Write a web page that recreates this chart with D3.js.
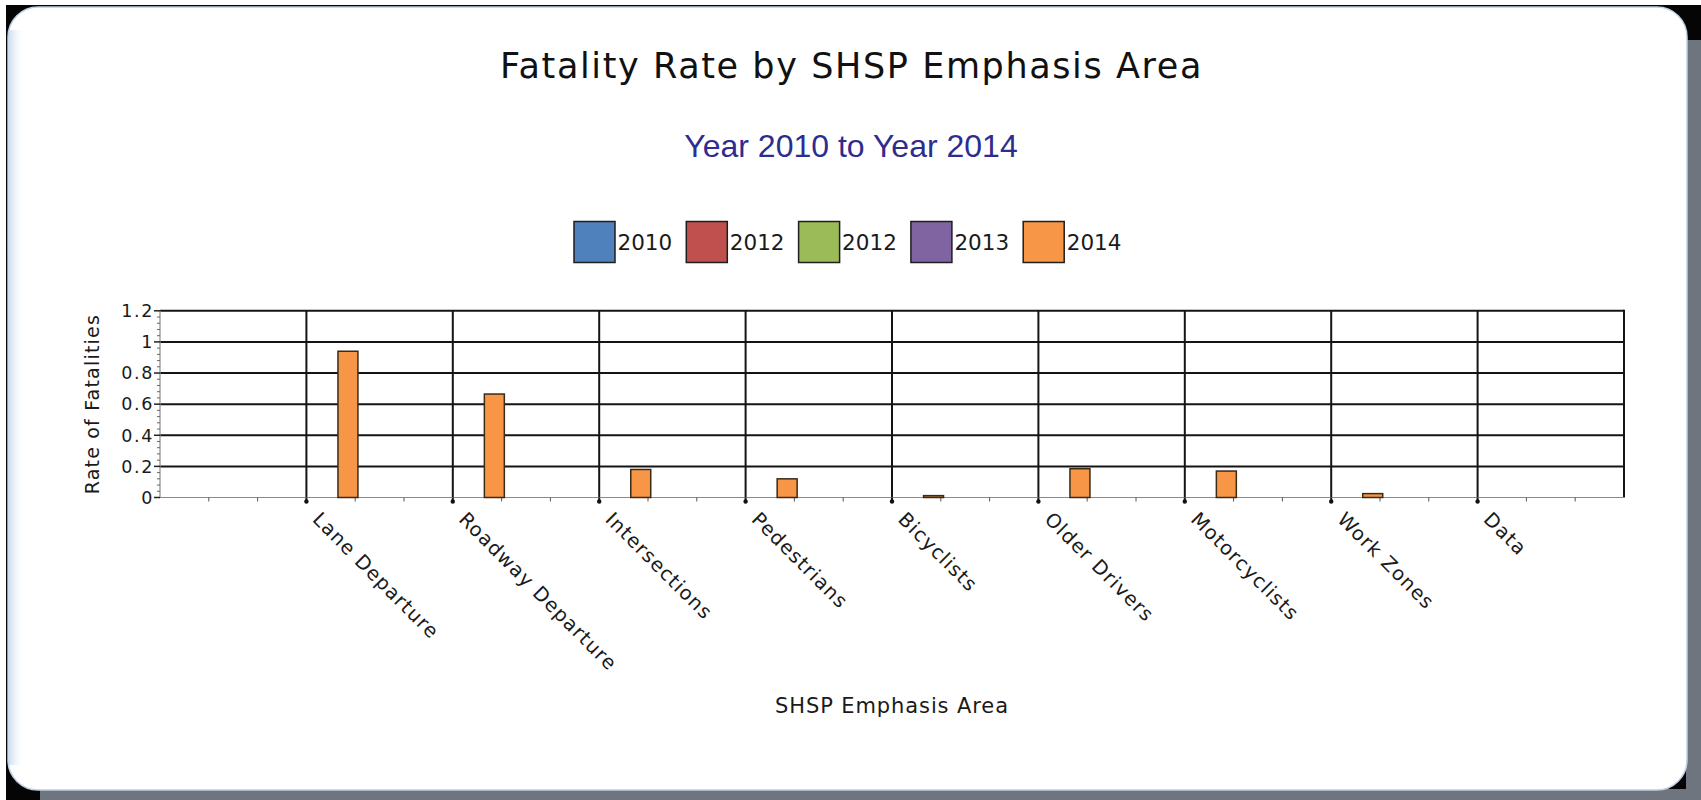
<!DOCTYPE html>
<html>
<head>
<meta charset="utf-8">
<script src="https://cdn.jsdelivr.net/npm/d3@7"></script>
<style>
  html, body { margin: 0; padding: 0; background: #ffffff; }
  svg { display: block; }
</style>
</head>
<body>
<svg id="chart" width="1701" height="800"></svg>
<script>
// ---------------- data ----------------
const categories = ["Lane Departure", "Roadway Departure", "Intersections", "Pedestrians",
  "Bicyclists", "Older Drivers", "Motorcyclists", "Work Zones", "Data"];
const seriesNames = ["2010", "2012", "2012", "2013", "2014"];
const seriesColors = ["#4F81BD", "#C0504D", "#9BBB59", "#8064A2", "#F79646"];
const values2010 = [null, null, null, null, null, null, null, null, null];
const values2012a = [null, null, null, null, null, null, null, null, null];
const values2012b = [null, null, null, null, null, null, null, null, null];
const values2013 = [null, null, null, null, null, null, null, null, null];
const values2014 = [0.94, 0.665, 0.18, 0.12, 0.012, 0.185, 0.17, 0.025, null];
const yTicks = [0, 0.2, 0.4, 0.6, 0.8, 1, 1.2];
const yTickLabels = ["0", "0.2", "0.4", "0.6", "0.8", "1", "1.2"];
const titleText = "Fatality Rate by SHSP Emphasis Area";
const subtitleText = "Year 2010 to Year 2014";
const xTitle = "SHSP Emphasis Area";
const yTitle = "Rate of Fatalities";

const seriesValues = [values2010, values2012a, values2012b, values2013, values2014];

// ---------------- frame ----------------
const svg = d3.select("#chart");
const W = 1701, H = 800;

const defs = svg.append("defs");
const lg = defs.append("linearGradient").attr("id", "leftGlow").attr("x1", "0").attr("x2", "1").attr("y1", "0").attr("y2", "0");
lg.append("stop").attr("offset", "0").attr("stop-color", "#cfdff0");
lg.append("stop").attr("offset", "1").attr("stop-color", "#ffffff").attr("stop-opacity", 0);

svg.append("rect").attr("x", 0).attr("y", 0).attr("width", W).attr("height", H).attr("fill", "#ffffff");
svg.append("rect").attr("x", 6).attr("y", 5).attr("width", W - 6).attr("height", H - 5).attr("fill", "#050505");
svg.append("rect").attr("x", 1686).attr("y", 40).attr("width", 15).attr("height", H - 40).attr("fill", "#6f757e");
svg.append("rect").attr("x", 40).attr("y", 789).attr("width", W - 40).attr("height", 11).attr("fill", "#6f757e");
svg.append("rect").attr("x", 8).attr("y", 7).attr("width", 1679).attr("height", 783).attr("rx", 30).attr("ry", 30)
  .attr("fill", "#ffffff").attr("stroke", "#bcd0e6").attr("stroke-width", 1.5);
svg.append("rect").attr("x", 9).attr("y", 30).attr("width", 16).attr("height", 735).attr("fill", "url(#leftGlow)");

// ---------------- titles ----------------
svg.append("text").attr("x", 851.5).attr("y", 78).attr("text-anchor", "middle")
  .attr("font-family", "DejaVu Sans").attr("font-size", 35).attr("letter-spacing", 1.6)
  .attr("fill", "#111").text(titleText);
svg.append("text").attr("x", 851).attr("y", 157).attr("text-anchor", "middle")
  .attr("font-family", "Liberation Sans").attr("font-size", 32)
  .attr("fill", "#2d2d8f").text(subtitleText);

// ---------------- legend ----------------
const legendX0 = 574, legendStep = 112.3, legendY = 221.5, sw = 41;
const legend = svg.append("g");
seriesNames.forEach((name, i) => {
  const g = legend.append("g").attr("transform", `translate(${legendX0 + i * legendStep},${legendY})`);
  g.append("rect").attr("x", 0).attr("y", 0).attr("width", sw).attr("height", sw)
    .attr("fill", seriesColors[i]).attr("stroke", "#1e1e1e").attr("stroke-width", 1.5);
  g.append("text").attr("x", sw + 2.5).attr("y", 28).attr("font-family", "DejaVu Sans")
    .attr("font-size", 21.5).attr("fill", "#1a1a1a").text(name);
});

// ---------------- scales ----------------
const plotLeft = 160, plotRight = 1624, yBase = 497.5, yTop = 310.8;
const x = d3.scalePoint().domain(categories).range([plotLeft, plotRight]).padding(1);
const step = x.step();
const y = d3.scaleLinear().domain([0, 1.2]).range([yBase, yTop]);
const xInner = d3.scaleBand().domain(d3.range(seriesNames.length))
  .range([-0.33 * step, 0.352 * step]).padding(0);

const plot = svg.append("g");

// horizontal gridlines
plot.selectAll("line.hgrid").data(yTicks.filter(t => t > 0)).join("line")
  .attr("x1", plotLeft).attr("x2", plotRight)
  .attr("y1", d => y(d)).attr("y2", d => y(d))
  .attr("stroke", "#141414").attr("stroke-width", 2);

// vertical gridlines at categories
plot.selectAll("line.vgrid").data(categories).join("line")
  .attr("x1", d => x(d)).attr("x2", d => x(d))
  .attr("y1", y(1.2)).attr("y2", yBase)
  .attr("stroke", "#141414").attr("stroke-width", 2);

// right border
plot.append("line").attr("x1", plotRight).attr("x2", plotRight).attr("y1", y(1.2) - 1).attr("y2", yBase)
  .attr("stroke", "#141414").attr("stroke-width", 2);

// x axis baseline
plot.append("line").attr("x1", plotLeft).attr("x2", plotRight + 1).attr("y1", yBase).attr("y2", yBase)
  .attr("stroke", "#8a8a8a").attr("stroke-width", 1.2);

// minor x ticks (thirds)
const minorX = [];
for (let k = 1; k < 30; k++) { if (k % 3 !== 0) minorX.push(plotLeft + k * step / 3); }
plot.selectAll("line.mx").data(minorX).join("line")
  .attr("x1", d => d).attr("x2", d => d).attr("y1", yBase).attr("y2", yBase + 4)
  .attr("stroke", "#555").attr("stroke-width", 1);

// major x ticks with dots
plot.selectAll("line.MX").data(categories).join("line")
  .attr("x1", d => x(d)).attr("x2", d => x(d)).attr("y1", yBase).attr("y2", yBase + 5)
  .attr("stroke", "#111").attr("stroke-width", 2);
plot.selectAll("circle.dot").data(categories).join("circle")
  .attr("cx", d => x(d)).attr("cy", yBase + 4).attr("r", 2.2).attr("fill", "#111");

// y axis
plot.append("line").attr("x1", plotLeft).attr("x2", plotLeft).attr("y1", y(1.2)).attr("y2", yBase)
  .attr("stroke", "#8a8a8a").attr("stroke-width", 1.2);
const minorY = d3.range(0, 31).map(i => i * 0.04).filter((v, i) => i % 5 !== 0);
plot.selectAll("line.my").data(minorY).join("line")
  .attr("x1", plotLeft - 3).attr("x2", plotLeft).attr("y1", d => y(d)).attr("y2", d => y(d))
  .attr("stroke", "#666").attr("stroke-width", 1);
plot.selectAll("line.My").data(yTicks).join("line")
  .attr("x1", plotLeft - 6).attr("x2", plotLeft).attr("y1", d => y(d)).attr("y2", d => y(d))
  .attr("stroke", "#222").attr("stroke-width", 1.5);
plot.selectAll("text.ylab").data(yTicks).join("text")
  .attr("x", plotLeft - 6).attr("y", d => y(d)).attr("dy", "0.36em")
  .attr("text-anchor", "end").attr("font-family", "DejaVu Sans").attr("font-size", 17.5)
  .attr("letter-spacing", 1.6).attr("fill", "#1a1a1a")
  .text((d, i) => yTickLabels[i]);

// bars
seriesValues.forEach((vals, si) => {
  const data = categories.map((c, i) => ({ c, v: vals[i] })).filter(d => d.v != null);
  plot.selectAll(null).data(data).join("rect")
    .attr("x", d => x(d.c) + xInner(si))
    .attr("width", xInner.bandwidth())
    .attr("y", d => y(d.v))
    .attr("height", d => yBase - y(d.v))
    .attr("fill", seriesColors[si])
    .attr("stroke", "#3a2a18").attr("stroke-width", 1.5);
});

// x tick labels rotated 45
plot.selectAll("text.xlab").data(categories).join("text")
  .attr("transform", d => `translate(${x(d) + 5},${yBase + 23}) rotate(45)`)
  .attr("font-family", "DejaVu Sans").attr("font-size", 19.5).attr("letter-spacing", 1.2)
  .attr("fill", "#1a1a1a").text(d => d);

// axis titles
svg.append("text").attr("transform", `translate(99,${(yTop + yBase) / 2}) rotate(-90)`)
  .attr("text-anchor", "middle").attr("font-family", "DejaVu Sans").attr("font-size", 19)
  .attr("letter-spacing", 1.2).attr("fill", "#1a1a1a").text(yTitle);
svg.append("text").attr("x", (plotLeft + plotRight) / 2).attr("y", 713).attr("text-anchor", "middle")
  .attr("font-family", "DejaVu Sans").attr("font-size", 21).attr("letter-spacing", 0.9)
  .attr("fill", "#1a1a1a").text(xTitle);
</script>
</body>
</html>
